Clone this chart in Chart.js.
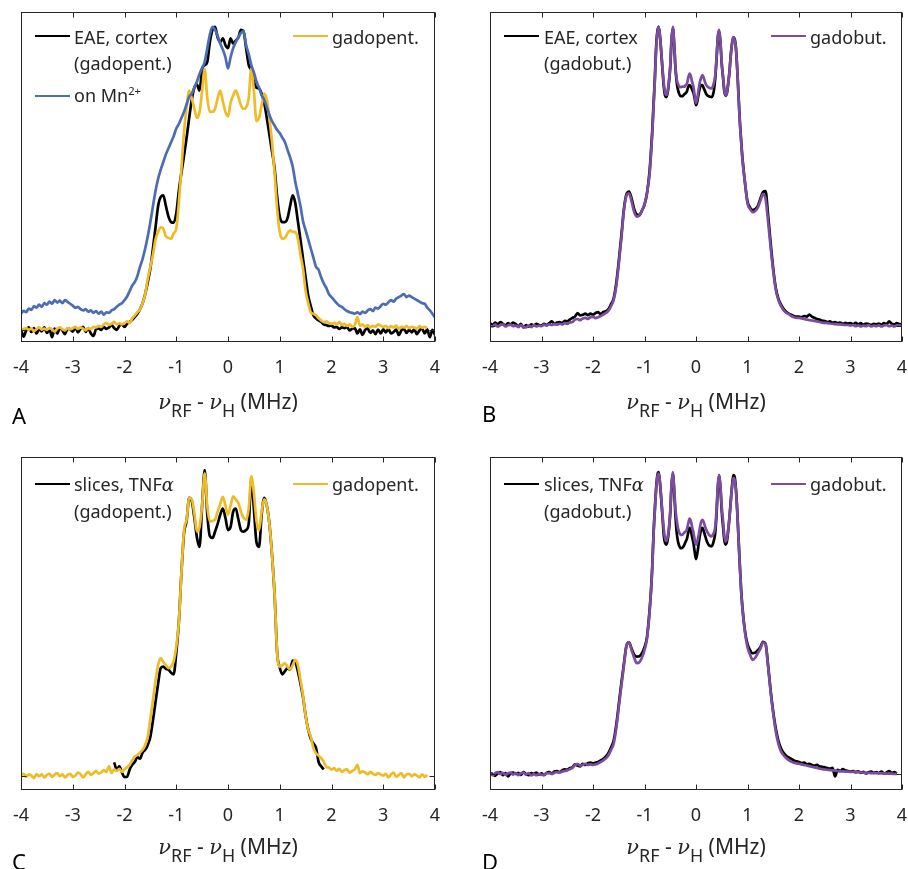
<!DOCTYPE html>
<html>
<head>
<meta charset="utf-8">
<script src="https://cdn.jsdelivr.net/npm/chart.js@4.4.0/dist/chart.umd.min.js"></script>
<style>
  html, body { margin: 0; padding: 0; background: #fff; }
  #wrap { position: relative; width: 908px; height: 869px; overflow: hidden; font-family: "Noto Sans", sans-serif; color: #262626; }
  .panel { position: absolute; width: 454px; height: 434px; }
  .panel canvas { position: absolute; left: 0; top: 0; }
  .txt { position: absolute; white-space: nowrap; font-size: 18px; line-height: 26px; }
  .txt sup { font-size: 0.62em; vertical-align: 0.65em; line-height: 0; }
  .swatch { position: absolute; height: 0; width: 35px; border-top: 2.5px solid #000; }
  .xtitle { position: absolute; font-size: 21px; line-height: 28px; white-space: nowrap; transform: translateX(-50%); }
  .xtitle sub { font-size: 0.85em; vertical-align: -0.45em; line-height: 0; }
  .greek { font-family: "DejaVu Serif", serif; font-style: italic; }
  .letter { position: absolute; font-size: 22px; line-height: 28px; color: #000; }
</style>
</head>
<body>
<div id="wrap"></div>
<script>
// x positions (MHz), shared by panels A and C
const xA = [
  -4, -3.95, -3.9, -3.85, -3.8, -3.75, -3.7, -3.65, -3.6, -3.55,
  -3.5, -3.45, -3.4, -3.35, -3.3, -3.25, -3.2, -3.15, -3.1, -3.05,
  -3, -2.95, -2.9, -2.85, -2.8, -2.75, -2.7, -2.65, -2.6, -2.55,
  -2.5, -2.45, -2.4, -2.35, -2.3, -2.25, -2.2, -2.15, -2.1, -2.05,
  -2, -1.95, -1.9, -1.85, -1.8, -1.75, -1.7, -1.65, -1.6, -1.55,
  -1.5, -1.45, -1.4, -1.35, -1.3, -1.25, -1.2, -1.15, -1.1, -1.05,
  -1, -0.95, -0.9, -0.85, -0.8, -0.75, -0.7, -0.65, -0.6, -0.55,
  -0.5, -0.45, -0.4, -0.35, -0.3, -0.25, -0.2, -0.15, -0.1, -0.05,
  0, 0.05, 0.1, 0.15, 0.2, 0.25, 0.3, 0.35, 0.4, 0.45,
  0.5, 0.55, 0.6, 0.65, 0.7, 0.75, 0.8, 0.85, 0.9, 0.95,
  1, 1.05, 1.1, 1.15, 1.2, 1.25, 1.3, 1.35, 1.4, 1.45,
  1.5, 1.55, 1.6, 1.65, 1.7, 1.75, 1.8, 1.85, 1.9, 1.95,
  2, 2.05, 2.1, 2.15, 2.2, 2.25, 2.3, 2.35, 2.4, 2.45,
  2.5, 2.55, 2.6, 2.65, 2.7, 2.75, 2.8, 2.85, 2.9, 2.95,
  3, 3.05, 3.1, 3.15, 3.2, 3.25, 3.3, 3.35, 3.4, 3.45,
  3.5, 3.55, 3.6, 3.65, 3.7, 3.75, 3.8, 3.85, 3.9, 3.95,
  4
];

// x positions (MHz) for panels B and D, finer in the centre
const xBD = [
  -4, -3.95, -3.9, -3.85, -3.8, -3.75, -3.7, -3.65, -3.6, -3.55,
  -3.5, -3.45, -3.4, -3.35, -3.3, -3.25, -3.2, -3.15, -3.1, -3.05,
  -3, -2.95, -2.9, -2.85, -2.8, -2.75, -2.7, -2.65, -2.6, -2.55,
  -2.5, -2.45, -2.4, -2.35, -2.3, -2.25, -2.2, -2.15, -2.1, -2.05,
  -2, -1.95, -1.9, -1.85, -1.8, -1.75, -1.7, -1.65, -1.6, -1.55,
  -1.5, -1.45, -1.4, -1.35, -1.3, -1.25, -1.2, -1.15, -1.1, -1.05, -1, -0.95,
  -0.9, -0.875, -0.85, -0.825, -0.8, -0.775, -0.75, -0.725, -0.7, -0.675, -0.65, -0.625,
  -0.6, -0.575, -0.55, -0.525, -0.5, -0.475, -0.45, -0.425, -0.4, -0.375, -0.35, -0.325,
  -0.3, -0.275, -0.25, -0.225, -0.2, -0.175, -0.15, -0.125, -0.1, -0.075, -0.05, -0.025,
  0, 0.025, 0.05, 0.075, 0.1, 0.125, 0.15, 0.175, 0.2, 0.225, 0.25, 0.275,
  0.3, 0.325, 0.35, 0.375, 0.4, 0.425, 0.45, 0.475, 0.5, 0.525, 0.55, 0.575,
  0.6, 0.625, 0.65, 0.675, 0.7, 0.725, 0.75, 0.775, 0.8, 0.825, 0.85, 0.875, 0.9,
  0.95, 1, 1.05, 1.1, 1.15, 1.2, 1.25, 1.3, 1.35, 1.4, 1.45,
  1.5, 1.55, 1.6, 1.65, 1.7, 1.75, 1.8, 1.85, 1.9, 1.95,
  2, 2.05, 2.1, 2.15, 2.2, 2.25, 2.3, 2.35, 2.4, 2.45,
  2.5, 2.55, 2.6, 2.65, 2.7, 2.75, 2.8, 2.85, 2.9, 2.95,
  3, 3.05, 3.1, 3.15, 3.2, 3.25, 3.3, 3.35, 3.4, 3.45,
  3.5, 3.55, 3.6, 3.65, 3.7, 3.75, 3.8, 3.85, 3.9, 3.95,
  4
];

const xTickValues = [-4, -3, -2, -1, 0, 1, 2, 3, 4];

// Panel A: EAE cortex (gadopent.), gadopent., on Mn2+
const aEae = [
  0.005, -0.02, 0.0, 0.01, -0.005, 0.008, -0.01, 0.005, -0.003, 0.01,
  -0.008, 0.004, -0.022, 0.006, -0.01, 0.008, 0.0, -0.012, 0.006, 0.004,
  -0.004, 0.01, -0.006, 0.005, 0.012, -0.005, 0.008, -0.01, -0.018, 0.004,
  0.006, 0.002, 0.012, 0.005, 0.01, 0.018, 0.008, 0.002, 0.015, 0.02,
  0.012, 0.022, 0.028, 0.035, 0.045, 0.055, 0.07, 0.09, 0.12, 0.16,
  0.205, 0.27, 0.34, 0.41, 0.44, 0.445, 0.41, 0.375, 0.357, 0.355,
  0.385, 0.46, 0.52, 0.575, 0.635, 0.70, 0.76, 0.80, 0.81, 0.79,
  0.86, 0.874, 0.885, 0.95, 0.99, 1.0, 0.965, 0.95, 0.962, 0.94,
  0.93, 0.962, 0.945, 0.955, 0.965, 0.99, 0.985, 0.93, 0.875, 0.857,
  0.82, 0.80, 0.797, 0.78, 0.75, 0.70, 0.645, 0.59, 0.535, 0.44,
  0.375, 0.357, 0.357, 0.37, 0.41, 0.445, 0.42, 0.36, 0.3, 0.236,
  0.175, 0.115, 0.08, 0.05, 0.04, 0.033, 0.028, 0.02, 0.018, 0.015,
  0.016, 0.01, 0.012, 0.005, 0.01, 0.008, 0.011, 0.0, 0.006, 0.008,
  -0.01, 0.004, -0.015, 0.002, 0.006, -0.008, 0.0, -0.012, 0.003, -0.01,
  0.004, -0.006, 0.005, -0.01, -0.005, 0.003, -0.015, 0.0, 0.005, -0.008,
  0.002, -0.006, 0.004, -0.012, 0.0, 0.006, -0.01, 0.004, -0.022, 0.002,
  -0.015
];
const aGado = [
  0.0, 0.005, 0.008, 0.002, 0.006, -0.002, 0.004, 0.01, 0.003, 0.006,
  0.002, 0.008, 0.004, -0.004, 0.006, 0.01, 0.004, 0.0, 0.008, 0.004,
  0.007, 0.012, 0.005, 0.01, 0.006, 0.0, 0.008, 0.004, 0.012, 0.01,
  0.015, 0.012, 0.02, 0.025, 0.018, 0.022, 0.028, 0.02, 0.024, 0.02,
  0.024, 0.03, 0.025, 0.04, 0.05, 0.06, 0.07, 0.09, 0.12, 0.17,
  0.21, 0.25, 0.3, 0.325, 0.34, 0.335, 0.31, 0.305, 0.302, 0.32,
  0.335, 0.42, 0.533, 0.654, 0.735, 0.79, 0.765, 0.73, 0.70, 0.72,
  0.79, 0.86, 0.765, 0.72, 0.72, 0.73, 0.765, 0.79, 0.755, 0.72,
  0.705, 0.75, 0.775, 0.79, 0.77, 0.742, 0.73, 0.735, 0.764, 0.863,
  0.79, 0.69, 0.70, 0.742, 0.78, 0.76, 0.70, 0.62, 0.52, 0.40,
  0.324, 0.302, 0.305, 0.32, 0.33, 0.325, 0.324, 0.302, 0.25, 0.203,
  0.13, 0.09, 0.06, 0.055, 0.05, 0.04, 0.033, 0.027, 0.03, 0.025,
  0.022, 0.025, 0.02, 0.028, 0.018, 0.022, 0.015, 0.02, 0.012, 0.018,
  0.045, 0.015, 0.02, 0.012, 0.018, 0.01, 0.015, 0.012, 0.02, 0.016,
  0.012, 0.015, 0.008, 0.014, 0.01, 0.016, 0.006, 0.012, 0.01, 0.014,
  0.008, 0.012, 0.01, 0.006, 0.014, 0.009, 0.012, 0.008, null, null,
  null
];
const aMn = [
  0.055, 0.065, 0.06, 0.072, 0.068, 0.08, 0.075, 0.085, 0.078, 0.09,
  0.085, 0.095, 0.088, 0.1, 0.092, 0.098, 0.09, 0.1, 0.094, 0.088,
  0.082, 0.075, 0.078, 0.07, 0.066, 0.07, 0.062, 0.066, 0.058, 0.064,
  0.055, 0.062, 0.052, 0.06, 0.058, 0.066, 0.07, 0.078, 0.085, 0.09,
  0.1, 0.112, 0.13, 0.148, 0.16, 0.18, 0.21, 0.236, 0.27, 0.31,
  0.357, 0.41, 0.46, 0.5, 0.53, 0.555, 0.58, 0.60, 0.62, 0.64,
  0.665, 0.68, 0.70, 0.72, 0.745, 0.77, 0.78, 0.80, 0.82, 0.845,
  0.865, 0.885, 0.93, 0.975, 1.0, 0.99, 0.97, 0.945, 0.925, 0.9,
  0.863, 0.9, 0.93, 0.95, 0.965, 0.98, 0.985, 0.94, 0.91, 0.874,
  0.85, 0.82, 0.8, 0.775, 0.76, 0.735, 0.71, 0.69, 0.675, 0.66,
  0.65, 0.635, 0.62, 0.595, 0.57, 0.54, 0.49, 0.45, 0.41, 0.36,
  0.33, 0.3, 0.27, 0.24, 0.21, 0.2, 0.175, 0.155, 0.14, 0.12,
  0.11, 0.1, 0.09, 0.082, 0.078, 0.07, 0.064, 0.06, 0.058, 0.055,
  0.06, 0.054, 0.062, 0.058, 0.066, 0.07, 0.064, 0.075, 0.072, 0.08,
  0.088, 0.085, 0.093, 0.1, 0.095, 0.105, 0.11, 0.115, 0.12, 0.11,
  0.115, 0.11, 0.105, 0.1, 0.095, 0.09, 0.088, 0.075, 0.066, 0.055,
  0.042
];

// Panel B: EAE cortex (gadobut.), gadobut.
const bEae = [
  0.008, 0.002, 0.01, 0.004, 0.012, 0.006, 0.0, 0.008, 0.004, 0.01,
  0.005, -0.004, 0.006, -0.006, 0.002, -0.004, 0.004, 0.0, 0.006, 0.002,
  0.0, 0.006, 0.002, 0.008, 0.014, 0.006, 0.01, 0.012, 0.008, 0.016,
  0.014, 0.02, 0.026, 0.03, 0.042, 0.034, 0.036, 0.04, 0.035, 0.04,
  0.036, 0.042, 0.045, 0.038, 0.046, 0.048, 0.055, 0.072, 0.09, 0.14,
  0.215, 0.3, 0.39, 0.44, 0.449, 0.425, 0.39, 0.372, 0.37, 0.385, 0.405, 0.445,
  0.52, 0.58, 0.65, 0.74, 0.825, 0.93, 0.985, 1.0, 0.97, 0.915, 0.855, 0.80,
  0.77, 0.765, 0.78, 0.815, 0.865, 0.955, 0.995, 0.945, 0.865, 0.815, 0.79, 0.775,
  0.768, 0.768, 0.77, 0.775, 0.778, 0.785, 0.80, 0.805, 0.80, 0.79, 0.78, 0.76,
  0.738, 0.75, 0.775, 0.795, 0.805, 0.805, 0.795, 0.785, 0.775, 0.77, 0.768, 0.766,
  0.765, 0.77, 0.79, 0.83, 0.895, 0.965, 0.985, 0.945, 0.875, 0.83, 0.785, 0.77,
  0.778, 0.81, 0.85, 0.905, 0.945, 0.965, 0.96, 0.93, 0.86, 0.775, 0.69, 0.625, 0.565,
  0.48, 0.415, 0.395, 0.387, 0.39, 0.4, 0.425, 0.447, 0.45, 0.37, 0.275,
  0.19, 0.125, 0.09, 0.07, 0.056, 0.046, 0.04, 0.036, 0.032, 0.03,
  0.03, 0.028, 0.032, 0.03, 0.037, 0.03, 0.026, 0.022, 0.02, 0.016,
  0.015, 0.012, 0.014, 0.01, 0.012, 0.008, 0.01, 0.006, 0.009, 0.007,
  0.008, 0.005, 0.009, 0.004, 0.008, 0.003, 0.007, 0.005, 0.002, 0.006,
  0.004, 0.007, 0.003, 0.008, 0.005, 0.014, 0.006, 0.004, 0.008, 0.005,
  0.004
];
const bGado = [
  0.0, -0.003, 0.004, -0.004, 0.002, 0.004, -0.003, 0.001, 0.003, -0.002,
  0.0, -0.005, 0.002, -0.004, -0.006, 0.0, -0.005, 0.002, -0.003, 0.0,
  -0.002, 0.003, 0.0, 0.004, 0.002, 0.005, 0.003, 0.006, 0.004, 0.008,
  0.006, 0.01, 0.012, 0.02, 0.022, 0.018, 0.024, 0.026, 0.022, 0.028,
  0.03, 0.025, 0.028, 0.032, 0.037, 0.042, 0.05, 0.065, 0.085, 0.13,
  0.205, 0.29, 0.385, 0.435, 0.443, 0.415, 0.38, 0.365, 0.368, 0.385, 0.405, 0.445,
  0.51, 0.57, 0.64, 0.73, 0.815, 0.92, 0.98, 1.0, 0.97, 0.92, 0.861, 0.81,
  0.78, 0.772, 0.785, 0.82, 0.87, 0.96, 1.0, 0.95, 0.87, 0.827, 0.81, 0.80,
  0.798, 0.80, 0.80, 0.80, 0.805, 0.81, 0.83, 0.844, 0.835, 0.815, 0.80, 0.77,
  0.745, 0.76, 0.79, 0.815, 0.83, 0.839, 0.83, 0.815, 0.805, 0.80, 0.797, 0.795,
  0.794, 0.80, 0.815, 0.84, 0.90, 0.97, 0.99, 0.95, 0.88, 0.835, 0.79, 0.772,
  0.78, 0.81, 0.85, 0.905, 0.945, 0.965, 0.955, 0.93, 0.86, 0.77, 0.683, 0.62, 0.56,
  0.48, 0.41, 0.39, 0.38, 0.384, 0.395, 0.418, 0.44, 0.425, 0.349, 0.26,
  0.182, 0.12, 0.085, 0.065, 0.052, 0.043, 0.038, 0.032, 0.028, 0.026,
  0.026, 0.024, 0.022, 0.02, 0.018, 0.017, 0.016, 0.014, 0.012, 0.01,
  0.009, 0.008, 0.007, 0.006, 0.005, 0.004, 0.004, 0.003, 0.002, 0.002,
  0.0, 0.002, -0.002, 0.001, -0.003, 0.0, -0.002, 0.002, -0.003, 0.0,
  -0.002, 0.001, -0.003, 0.0, 0.002, -0.002, 0.0, -0.003, 0.001, 0.0,
  0.0
];

// Panel C: slices TNFa (gadopent.) covers -2.2..1.85 MHz, gadopent. covers -4..3.85
const cEaeX = xA.slice(36, 118);
const cEae = [
  0.043, 0.02, 0.03, 0.01, -0.005, -0.004, 0.02, 0.035, 0.045, 0.06,
  0.055, 0.075, 0.084, 0.1, 0.127, 0.18, 0.24, 0.3, 0.35, 0.355,
  0.348, 0.345, 0.335, 0.33, 0.40, 0.50, 0.66, 0.79, 0.83, 0.905,
  0.895, 0.84, 0.775, 0.745, 0.88, 0.995, 0.85, 0.78, 0.774, 0.795,
  0.82, 0.85, 0.87, 0.84, 0.80, 0.81, 0.86, 0.87, 0.835, 0.80,
  0.795, 0.80, 0.82, 0.965, 0.87, 0.76, 0.745, 0.85, 0.905, 0.88,
  0.82, 0.72, 0.59, 0.40, 0.352, 0.33, 0.34, 0.35, 0.345, 0.375,
  0.37, 0.34, 0.30, 0.255, 0.195, 0.15, 0.12, 0.105, 0.09, 0.045,
  0.03, 0.02
];
const cGado = [
  0.0, 0.006, -0.004, 0.004, 0.0, -0.008, 0.005, -0.002, 0.004, -0.006,
  0.002, 0.006, -0.004, 0.003, 0.008, -0.002, 0.004, -0.006, 0.002, 0.006,
  -0.004, 0.0, 0.01, 0.005, -0.006, 0.004, 0.012, 0.002, 0.008, 0.015,
  0.006, 0.01, 0.018, 0.012, 0.03, 0.008, 0.02, 0.015, 0.022, 0.012,
  0.02, 0.028, 0.035, 0.05, 0.062, 0.067, 0.075, 0.084, 0.1, 0.127,
  0.185, 0.247, 0.31, 0.361, 0.383, 0.37, 0.36, 0.35, 0.355, 0.372,
  0.42, 0.50, 0.66, 0.80, 0.834, 0.905, 0.90, 0.855, 0.795, 0.81,
  0.88, 0.985, 0.877, 0.828, 0.83, 0.834, 0.86, 0.885, 0.908, 0.88,
  0.85, 0.88, 0.91, 0.9, 0.888, 0.86, 0.84, 0.834, 0.87, 0.975,
  0.92, 0.83, 0.80, 0.86, 0.90, 0.88, 0.82, 0.72, 0.59, 0.40,
  0.355, 0.36, 0.366, 0.355, 0.345, 0.36, 0.377, 0.36, 0.312, 0.26,
  0.195, 0.15, 0.127, 0.09, 0.073, 0.065, 0.057, 0.045, 0.029, 0.026,
  0.02, 0.024, 0.016, 0.022, 0.012, 0.018, 0.02, 0.01, 0.015, 0.02,
  0.035, 0.008, 0.014, 0.01, 0.004, 0.012, 0.006, 0.002, 0.008, 0.004,
  0.0, 0.006, -0.006, 0.004, 0.01, -0.004, 0.002, 0.008, -0.006, 0.004,
  0.006, -0.002, 0.004, 0.0, -0.006, 0.004, -0.004, 0.002, null, null,
  null
];

// Panel D: slices TNFa (gadobut.), gadobut.
const dEae = [
  0.004, 0.0, -0.006, 0.002, 0.006, -0.004, 0.003, -0.008, 0.002, 0.005,
  0.0, 0.004, -0.003, 0.006, 0.0, -0.004, 0.003, 0.0, 0.005, -0.002,
  0.002, -0.004, 0.004, 0.006, 0.002, 0.008, 0.01, 0.006, 0.012, 0.015,
  0.014, 0.02, 0.022, 0.032, 0.028, 0.025, 0.034, 0.03, 0.036, 0.038,
  0.035, 0.038, 0.04, 0.045, 0.05, 0.058, 0.07, 0.088, 0.11, 0.16,
  0.23, 0.3, 0.365, 0.425, 0.436, 0.415, 0.395, 0.389, 0.39, 0.40, 0.42, 0.455,
  0.545, 0.605, 0.685, 0.795, 0.875, 0.945, 0.99, 1.0, 0.965, 0.91, 0.85, 0.79,
  0.765, 0.76, 0.775, 0.81, 0.865, 0.955, 0.995, 0.94, 0.86, 0.80, 0.77, 0.755,
  0.748, 0.748, 0.752, 0.76, 0.77, 0.78, 0.80, 0.815, 0.805, 0.785, 0.765, 0.735,
  0.712, 0.73, 0.76, 0.79, 0.81, 0.815, 0.805, 0.79, 0.776, 0.765, 0.758, 0.755,
  0.754, 0.76, 0.776, 0.80, 0.865, 0.95, 0.99, 0.945, 0.87, 0.82, 0.775, 0.76,
  0.77, 0.805, 0.85, 0.905, 0.955, 0.99, 0.985, 0.945, 0.875, 0.785, 0.695, 0.615, 0.555,
  0.475, 0.43, 0.41, 0.40, 0.402, 0.41, 0.42, 0.438, 0.432, 0.36, 0.275,
  0.205, 0.15, 0.11, 0.085, 0.07, 0.06, 0.055, 0.05, 0.045, 0.042,
  0.04, 0.036, 0.038, 0.032, 0.034, 0.03, 0.028, 0.03, 0.025, 0.024,
  0.022, 0.02, 0.018, 0.02, -0.008, 0.014, 0.01, 0.016, 0.012, 0.01,
  0.008, 0.01, 0.006, 0.009, 0.004, 0.007, 0.002, 0.006, 0.008, 0.004,
  0.006, 0.003, 0.008, 0.002, 0.005, 0.01, 0.004, 0.006, 0.002, null,
  null
];
const dGado = [
  0.002, -0.004, 0.003, 0.006, 0.0, 0.004, -0.003, 0.002, 0.005, -0.002,
  0.003, -0.004, 0.002, 0.005, -0.002, 0.003, -0.005, 0.0, -0.004, 0.0,
  -0.003, -0.002, 0.002, 0.003, 0.0, 0.004, 0.006, 0.005, 0.008, 0.01,
  0.012, 0.016, 0.02, 0.03, 0.033, 0.028, 0.03, 0.034, 0.03, 0.032,
  0.03, 0.032, 0.035, 0.04, 0.045, 0.052, 0.062, 0.08, 0.1, 0.15,
  0.22, 0.29, 0.36, 0.425, 0.436, 0.41, 0.385, 0.367, 0.37, 0.385, 0.41, 0.45,
  0.54, 0.60, 0.68, 0.79, 0.87, 0.94, 0.985, 0.995, 0.965, 0.915, 0.86, 0.81,
  0.78, 0.772, 0.785, 0.815, 0.87, 0.96, 1.0, 0.95, 0.88, 0.842, 0.815, 0.80,
  0.793, 0.792, 0.795, 0.80, 0.803, 0.812, 0.83, 0.846, 0.838, 0.818, 0.80, 0.775,
  0.76, 0.77, 0.79, 0.815, 0.835, 0.842, 0.835, 0.82, 0.809, 0.80, 0.793, 0.789,
  0.787, 0.792, 0.80, 0.82, 0.88, 0.96, 0.99, 0.95, 0.885, 0.84, 0.79, 0.77,
  0.78, 0.81, 0.85, 0.90, 0.95, 0.98, 0.975, 0.94, 0.87, 0.78, 0.69, 0.61, 0.55,
  0.47, 0.42, 0.395, 0.378, 0.385, 0.40, 0.415, 0.435, 0.43, 0.356, 0.27,
  0.20, 0.14, 0.10, 0.075, 0.062, 0.053, 0.046, 0.041, 0.037, 0.035,
  0.034, 0.032, 0.03, 0.028, 0.026, 0.024, 0.022, 0.02, 0.018, 0.016,
  0.015, 0.014, 0.013, 0.012, 0.011, 0.01, 0.009, 0.009, 0.008, 0.008,
  0.007, 0.007, 0.006, 0.006, 0.005, 0.005, 0.004, 0.004, 0.003, 0.003,
  0.003, 0.002, 0.002, 0.002, 0.001, 0.001, 0.001, 0.0, 0.001, null,
  null
];

const BLACK = '#000000';
const GOLD = '#EFBB27';
const BLUE = '#4C6DB4';
const PURPLE = '#7B4C9F';

function pts(name, xs, ys) {
  if (xs.length !== ys.length) throw new Error(name + ' length ' + ys.length + ' vs x ' + xs.length);
  return xs.map((x, i) => ({ x: x, y: ys[i] }));
}

const TITLE = '<span class="greek">\u03bd</span><sub>RF</sub> - <span class="greek">\u03bd</span><sub>H</sub> (MHz)';

// datasets listed top-most first (Chart.js paints the first dataset last)
const panels = [
  {
    letter: 'A', left: 0, top: 0, pad: { left: 21, top: 12, right: 19, bottom: 56 },
    yMin: -0.038, yMax: 1.049, titleTop: 387, letterPos: [12, 401],
    series: [
      { name: 'aMn', xs: xA, ys: aMn, color: BLUE },
      { name: 'aGado', xs: xA, ys: aGado, color: GOLD },
      { name: 'aEae', xs: xA, ys: aEae, color: BLACK }
    ],
    legend: [
      { color: BLACK, lx: 35, ly: 36, tx: 74, ty: 24, html: 'EAE, cortex<br>(gadopent.)' },
      { color: BLUE, lx: 35, ly: 96, tx: 74, ty: 82, html: 'on Mn<sup>2+</sup>' },
      { color: GOLD, lx: 293, ly: 36, tx: 332, ty: 24, html: 'gadopent.' }
    ]
  },
  {
    letter: 'B', left: 454, top: 0, pad: { left: 36, top: 12, right: 6, bottom: 56 },
    yMin: -0.055, yMax: 1.05, titleTop: 387, letterPos: [28, 399],
    series: [
      { name: 'bGado', xs: xBD, ys: bGado, color: PURPLE },
      { name: 'bEae', xs: xBD, ys: bEae, color: BLACK }
    ],
    legend: [
      { color: BLACK, lx: 50, ly: 36, tx: 90, ty: 24, html: 'EAE, cortex<br>(gadobut.)' },
      { color: PURPLE, lx: 317, ly: 36, tx: 356, ty: 24, html: 'gadobut.' }
    ]
  },
  {
    letter: 'C', left: 0, top: 435, pad: { left: 21, top: 22, right: 19, bottom: 43 },
    yMin: -0.047, yMax: 1.038, titleTop: 397, letterPos: [12, 412],
    series: [
      { name: 'cGado', xs: xA, ys: cGado, color: GOLD },
      { name: 'cEae', xs: cEaeX, ys: cEae, color: BLACK }
    ],
    legend: [
      { color: BLACK, lx: 35, ly: 49, tx: 74, ty: 36, html: 'slices, TNF<span class="greek">\u03b1</span><br>(gadopent.)' },
      { color: GOLD, lx: 293, ly: 49, tx: 332, ty: 36, html: 'gadopent.' }
    ]
  },
  {
    letter: 'D', left: 454, top: 435, pad: { left: 36, top: 22, right: 6, bottom: 43 },
    yMin: -0.053, yMax: 1.05, titleTop: 397, letterPos: [28, 412],
    series: [
      { name: 'dGado', xs: xBD, ys: dGado, color: PURPLE },
      { name: 'dEae', xs: xBD, ys: dEae, color: BLACK }
    ],
    legend: [
      { color: BLACK, lx: 50, ly: 49, tx: 90, ty: 36, html: 'slices, TNF<span class="greek">\u03b1</span><br>(gadobut.)' },
      { color: PURPLE, lx: 317, ly: 49, tx: 356, ty: 36, html: 'gadobut.' }
    ]
  }
];

// box round the plot with inward ticks, drawn over the curves
const framePlugin = {
  id: 'frame',
  afterDatasetsDraw(chart) {
    const { ctx, chartArea: a, scales } = chart;
    const L = Math.round(a.left) + 0.5, R = Math.round(a.right) - 0.5;
    const T = Math.round(a.top) + 0.5, B = Math.round(a.bottom) - 0.5;
    ctx.save();
    ctx.strokeStyle = '#262626';
    ctx.lineWidth = 1;
    ctx.strokeRect(L, T, R - L, B - T);
    ctx.beginPath();
    scales.x.ticks.forEach(t => {
      const px = Math.round(scales.x.getPixelForValue(t.value)) + 0.5;
      ctx.moveTo(px, B); ctx.lineTo(px, B - 5);
      ctx.moveTo(px, T); ctx.lineTo(px, T + 5);
    });
    const py = Math.round(scales.y.getPixelForValue(0)) + 0.5;
    ctx.moveTo(L, py); ctx.lineTo(L + 5, py);
    ctx.moveTo(R, py); ctx.lineTo(R - 5, py);
    ctx.stroke();
    ctx.restore();
  }
};

const wrap = document.getElementById('wrap');

panels.forEach(p => {
  const div = document.createElement('div');
  div.className = 'panel';
  div.style.left = p.left + 'px';
  div.style.top = p.top + 'px';
  const canvas = document.createElement('canvas');
  canvas.width = 454;
  canvas.height = 434;
  div.appendChild(canvas);
  wrap.appendChild(div);

  new Chart(canvas.getContext('2d'), {
    type: 'line',
    data: {
      datasets: p.series.map(s => ({
        label: s.name,
        data: pts(s.name, s.xs, s.ys),
        borderColor: s.color,
        borderWidth: 2.7,
        pointRadius: 0,
        fill: false,
        cubicInterpolationMode: 'monotone'
      }))
    },
    options: {
      responsive: false,
      animation: false,
      devicePixelRatio: 1,
      layout: { padding: p.pad },
      plugins: { legend: { display: false }, tooltip: { enabled: false } },
      scales: {
        x: {
          type: 'linear', min: -4, max: 4,
          grid: { display: false, drawTicks: false },
          border: { display: false },
          afterBuildTicks: s => { s.ticks = xTickValues.map(v => ({ value: v })); },
          afterFit: s => { s.height = 36; s.paddingLeft = 0; s.paddingRight = 0; },
          ticks: {
            autoSkip: false, maxRotation: 0, padding: 15, color: '#262626',
            font: { family: 'Noto Sans', size: 18 },
            callback: v => String(v)
          }
        },
        y: { display: false, min: p.yMin, max: p.yMax }
      }
    },
    plugins: [framePlugin]
  });

  const cx = p.pad.left + (454 - p.pad.left - p.pad.right) / 2;
  const title = document.createElement('div');
  title.className = 'xtitle';
  title.style.left = cx + 'px';
  title.style.top = p.titleTop + 'px';
  title.innerHTML = TITLE;
  div.appendChild(title);

  const letter = document.createElement('div');
  letter.className = 'letter';
  letter.style.left = p.letterPos[0] + 'px';
  letter.style.top = p.letterPos[1] + 'px';
  letter.textContent = p.letter;
  div.appendChild(letter);

  p.legend.forEach(item => {
    const sw = document.createElement('div');
    sw.className = 'swatch';
    sw.style.left = item.lx + 'px';
    sw.style.top = (item.ly - 1) + 'px';
    sw.style.borderTopColor = item.color;
    div.appendChild(sw);
    const t = document.createElement('div');
    t.className = 'txt';
    t.style.left = item.tx + 'px';
    t.style.top = item.ty + 'px';
    t.innerHTML = item.html;
    div.appendChild(t);
  });
});
</script>
</body>
</html>
